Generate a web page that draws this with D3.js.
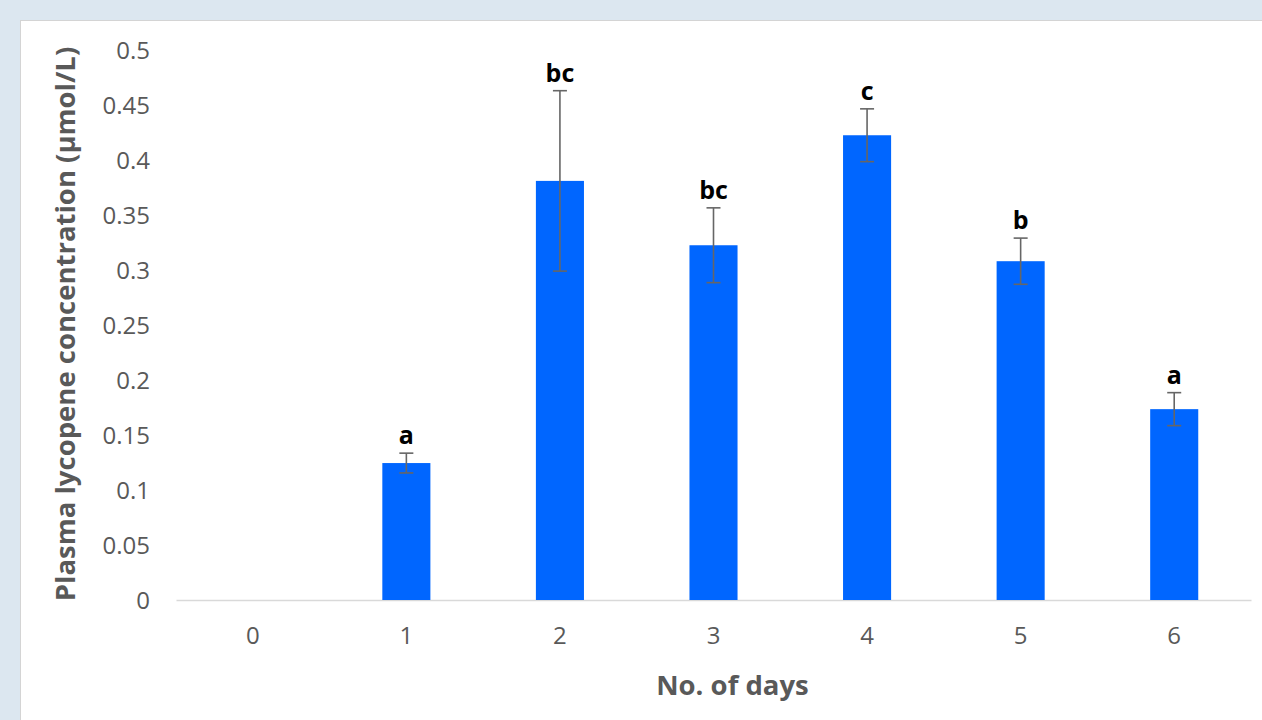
<!DOCTYPE html>
<html>
<head>
<meta charset="utf-8">
<script src="https://cdn.jsdelivr.net/npm/d3@7/dist/d3.min.js"></script>
<style>
  html, body { margin: 0; padding: 0; background: #dce7f0; }
  svg { display: block; }
</style>
</head>
<body>
<svg id="chart" width="1262" height="720"></svg>
<script>
// Plasma lycopene concentration by day, with SE and significance letters
const days = ["0", "1", "2", "3", "4", "5", "6"];
const concentration = [0, 0.1245, 0.381, 0.3225, 0.4225, 0.308, 0.1735];
const errorSE = [0, 0.009, 0.082, 0.034, 0.024, 0.021, 0.015];
const groupLetters = ["", "a", "bc", "bc", "c", "b", "a"];
const yTicks = [0, 0.05, 0.1, 0.15, 0.2, 0.25, 0.3, 0.35, 0.4, 0.45, 0.5];

const svg = d3.select("#chart");
const font = "'Open Sans', 'Liberation Sans', sans-serif";

// white chart panel
svg.append("rect")
  .attr("x", 20.5).attr("y", 20.5)
  .attr("width", 1300).attr("height", 800)
  .attr("fill", "#ffffff")
  .attr("stroke", "#d4d4d4").attr("stroke-width", 1);

const plot = { left: 176, right: 1251, top: 50, bottom: 600 };

const x = d3.scaleBand()
  .domain(days)
  .range([plot.left, plot.right])
  .paddingInner(0.687)
  .paddingOuter(0.3435);

const y = d3.scaleLinear()
  .domain([0, 0.5])
  .range([plot.bottom, plot.top]);

// y-axis labels
const yAxis = d3.axisLeft(y)
  .tickValues(yTicks)
  .tickFormat(d => String(+d.toFixed(2)))
  .tickSize(0)
  .tickPadding(0);
const gy = svg.append("g")
  .attr("transform", `translate(${150},0)`)
  .call(yAxis);
gy.select(".domain").remove();
gy.selectAll("text")
  .attr("fill", "#595959")
  .style("font-family", font)
  .style("font-size", "24px")
  .attr("dy", "0.36em");

// x-axis line and labels
const xAxis = d3.axisBottom(x).tickSize(0).tickPadding(0);
const gx = svg.append("g")
  .attr("transform", `translate(0,${plot.bottom})`)
  .call(xAxis);
gx.select(".domain").attr("stroke", "#d9d9d9").attr("stroke-width", 1.5);
gx.selectAll("text")
  .attr("fill", "#595959")
  .attr("y", 44)
  .attr("dy", "0")
  .style("font-family", font)
  .style("font-size", "24px");

// bars
svg.append("g").selectAll("rect")
  .data(days)
  .join("rect")
  .attr("x", d => x(d))
  .attr("width", x.bandwidth())
  .attr("y", (d, i) => y(concentration[i]))
  .attr("height", (d, i) => y(0) - y(concentration[i]))
  .attr("fill", "#0066ff");

// error bars
const errG = svg.append("g").attr("stroke", "#666666").attr("stroke-width", 1.6);
days.forEach((d, i) => {
  if (!errorSE[i]) return;
  const cx = x(d) + x.bandwidth() / 2;
  const hi = y(concentration[i] + errorSE[i]);
  const lo = y(concentration[i] - errorSE[i]);
  errG.append("line").attr("x1", cx).attr("x2", cx).attr("y1", hi).attr("y2", lo);
  errG.append("line").attr("x1", cx - 7).attr("x2", cx + 7).attr("y1", hi).attr("y2", hi);
  errG.append("line").attr("x1", cx - 7).attr("x2", cx + 7).attr("y1", lo).attr("y2", lo);
});

// significance letters
svg.append("g").selectAll("text")
  .data(days)
  .join("text")
  .attr("x", d => x(d) + x.bandwidth() / 2)
  .attr("y", (d, i) => y(concentration[i] + errorSE[i]) - 9)
  .attr("text-anchor", "middle")
  .attr("fill", "#000000")
  .style("font-family", font)
  .style("font-weight", "bold")
  .style("font-size", "25px")
  .text((d, i) => groupLetters[i]);

// axis titles
svg.append("text")
  .attr("x", (plot.left + plot.right) / 2 + 19)
  .attr("y", 695)
  .attr("text-anchor", "middle")
  .attr("fill", "#595959")
  .style("font-family", font)
  .style("font-weight", "bold")
  .style("font-size", "27.5px")
  .text("No. of days");

svg.append("text")
  .attr("transform", `translate(75,${(plot.top + plot.bottom) / 2 - 1}) rotate(-90)`)
  .attr("text-anchor", "middle")
  .attr("fill", "#595959")
  .style("font-family", font)
  .style("font-weight", "bold")
  .style("font-size", "27.5px")
  .text("Plasma lycopene concentration (µmol/L)");
</script>
</body>
</html>
